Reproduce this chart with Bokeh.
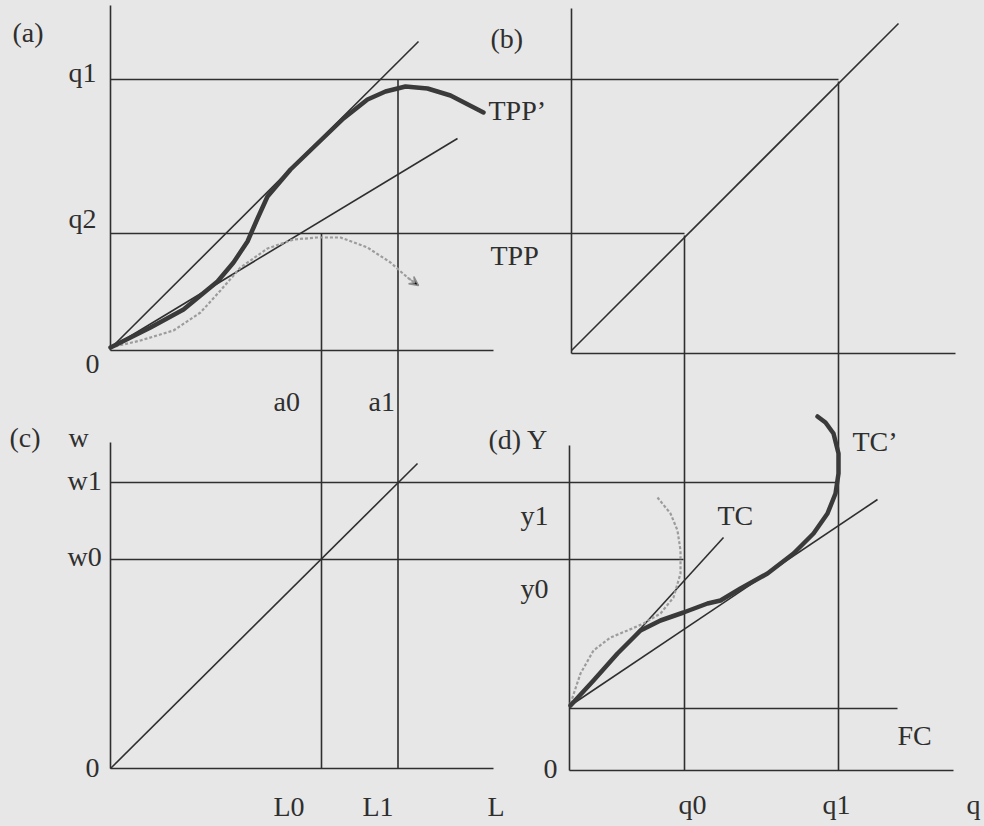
from bokeh.plotting import figure
from bokeh.models import Range1d, ColumnDataSource, Arrow, VeeHead
from bokeh.core.properties import value
from bokeh.embed import file_html
from bokeh.resources import INLINE

# Diagram frame: x to the right, y downwards (same frame as the scanned page)

# Axes of the four quadrants (a), (b), (c), (d)
axis_x0 = [110, 110, 571, 571, 110, 110, 569, 569]
axis_y0 = [5, 350, 8, 353, 442, 768, 445, 770]
axis_x1 = [110, 493, 571, 955, 110, 493, 569, 953]
axis_y1 = [350, 350, 353, 353, 768, 768, 770, 770]

# Horizontal guide levels: q1, q2, w1, w0, FC
hguide_y = [79, 233, 482, 559, 708]
hguide_x0 = [110, 110, 110, 110, 569]
hguide_x1 = [838, 684, 837, 683, 897]

# Vertical guide levels: a0/L0, a1/L1, q0, q1
vguide_x = [321, 397.5, 684, 838]
vguide_y0 = [233, 79, 235, 81]
vguide_y1 = [768, 768, 770, 770]

# Straight rays: tangents in (a), 45-degree lines in (b) and (c), TC and tangent in (d)
ray_x0 = [111, 111, 571, 110, 570, 570]
ray_y0 = [347, 347, 350, 768, 705, 705]
ray_x1 = [418, 457, 898, 417, 723, 877]
ray_y1 = [41, 138, 23, 463, 537, 499]

# Quadrant (a): TPP' (thick) and TPP (dotted)
tpp_new_x = [110, 150, 183, 217, 233, 247, 257, 267, 290, 317, 343, 367, 385, 405, 427, 450, 483]
tpp_new_y = [347, 327, 309, 281, 262, 241, 218, 196, 169, 143, 118, 99, 91, 86, 88, 95, 112]
tpp_old_x = [110, 140, 173, 200, 220, 240, 267, 293, 317, 340, 367, 390, 407, 418]
tpp_old_y = [347, 340, 330, 312, 290, 267, 248, 239, 237, 237, 247, 262, 277, 285]

# Quadrant (d): TC' (thick) and TC (dotted)
tc_new_x = [570, 593, 617, 640, 660, 683, 707, 720, 740, 767, 793, 813, 827, 835, 838, 838, 833, 825, 817]
tc_new_y = [705, 680, 653, 630, 620, 612, 603, 600, 588, 573, 553, 533, 513, 493, 473, 453, 433, 422, 416]
tc_old_x = [570, 580, 593, 610, 627, 643, 660, 673, 680, 680, 677, 670, 657]
tc_old_y = [703, 673, 650, 637, 630, 623, 613, 597, 573, 550, 530, 513, 497]

# Labels (left edge, anchor line)
label_text = ["(a)", "q1", "q2", "0", "TPP\u2019", "TPP", "(b)", "a0", "a1",
              "(c)", "w", "w1", "w0", "0", "L0", "L1", "L",
              "(d) Y", "y1", "y0", "0", "TC", "TC\u2019", "FC", "q0", "q1", "q"]
label_x = [12, 68, 68, 85, 488, 490, 490, 273, 368,
           9, 68, 67, 67, 85, 273, 362, 487,
           488, 520, 520, 543, 717, 852, 897, 678, 822, 966]
label_y = [32, 72, 218, 363, 110, 255, 38, 401, 401,
           437, 437, 480, 556, 767, 806, 806, 806,
           439, 515, 588, 768, 515, 441, 735, 804, 804, 804]

INK = "#2f2f2f"
BG = "#e7e7e7"

p = figure(width=984, height=826, output_backend="svg", toolbar_location=None,
           x_range=Range1d(0, 984), y_range=Range1d(826, 0),
           x_axis_type=None, y_axis_type=None, min_border=0)
p.grid.visible = False
p.outline_line_color = None
p.background_fill_color = BG
p.border_fill_color = BG

p.segment(x0=axis_x0, y0=axis_y0, x1=axis_x1, y1=axis_y1, line_color=INK, line_width=1.6)
p.segment(x0=hguide_x0, y0=hguide_y, x1=hguide_x1, y1=hguide_y, line_color=INK, line_width=1.6)
p.segment(x0=vguide_x, y0=vguide_y0, x1=vguide_x, y1=vguide_y1, line_color=INK, line_width=1.6)
p.segment(x0=ray_x0, y0=ray_y0, x1=ray_x1, y1=ray_y1, line_color=INK, line_width=1.6)

# dotted original curves
p.line(tpp_old_x, tpp_old_y, line_color="#9c9c9c", line_width=2.2, line_dash="3 2")
p.line(tc_old_x, tc_old_y, line_color="#9c9c9c", line_width=2.2, line_dash="3 2")
p.add_layout(Arrow(end=VeeHead(size=9, line_color="#8c8c8c", line_width=1.5),
                   x_start=tpp_old_x[-2], y_start=tpp_old_y[-2],
                   x_end=tpp_old_x[-1], y_end=tpp_old_y[-1],
                   line_color="#9c9c9c", line_width=1.5))

# thick shifted curves
p.line(tpp_new_x, tpp_new_y, line_color="#3a3a3a", line_width=4.5,
       line_join="round", line_cap="round")
p.line(tc_new_x, tc_new_y, line_color="#3a3a3a", line_width=4.5,
       line_join="round", line_cap="round")

src = ColumnDataSource(dict(x=label_x, y=label_y, t=label_text))
p.text(x="x", y="y", text="t", source=src, text_font=value("Liberation Serif"),
       text_font_size="28px", text_color=INK, text_align="left",
       text_baseline="alphabetic")

html = file_html(p, INLINE)
html = html.replace("</head>", "<style>html,body{background:#e7e7e7;margin:0;overflow:hidden;}</style></head>", 1)
open("out.html", "w").write(html)
